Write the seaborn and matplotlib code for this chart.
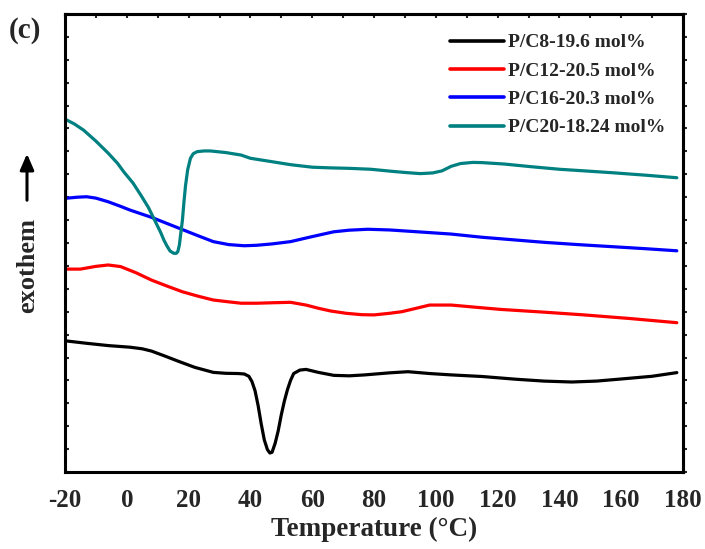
import numpy as np
import pandas as pd
import matplotlib
matplotlib.use("Agg")
import matplotlib.pyplot as plt
import seaborn as sns

# ---- data (y in arbitrary offset units) ----
labels = ["P/C8-19.6 mol%", "P/C12-20.5 mol%", "P/C16-20.3 mol%", "P/C20-18.24 mol%"]
colors = ["#000000", "#ff0000", "#0000ff", "#008080"]

t_c8 = [-20, -13, -6, 1, 5, 8, 12, 17, 22, 28, 32, 36, 38, 39.5, 40.5, 41.5, 42.5, 43.5, 44.5, 45.5, 46.3, 47, 48, 49, 50, 51,
        52, 53, 54, 56, 58, 62, 67, 72, 77, 85, 91, 98, 105, 115, 126, 135, 144, 152, 159, 170, 178]
y_c8 = [5.73, 5.62, 5.52, 5.45, 5.38, 5.28, 5.08, 4.82, 4.57, 4.35, 4.31, 4.30, 4.28, 4.18, 3.95, 3.55, 2.90, 2.10, 1.40, 0.98, 0.83, 0.86, 1.25, 1.80, 2.50, 3.10,
        3.60, 4.00, 4.30, 4.45, 4.48, 4.35, 4.22, 4.20, 4.24, 4.33, 4.38, 4.30, 4.24, 4.17, 4.05, 3.97, 3.93, 3.97, 4.05, 4.18, 4.34]

t_c12 = [-20, -15, -10, -6, -2, 3, 8, 13, 18, 23, 28, 33, 37, 42, 47, 53, 58, 62, 66, 71,
         76, 80, 85, 89, 94, 98, 105, 115, 121, 135, 148, 163, 178]
y_c12 = [8.86, 8.86, 8.98, 9.04, 8.97, 8.70, 8.38, 8.12, 7.87, 7.68, 7.51, 7.43, 7.37, 7.37, 7.39, 7.41, 7.29, 7.15, 7.03, 6.93,
         6.87, 6.86, 6.93, 7.00, 7.16, 7.29, 7.29, 7.17, 7.10, 6.98, 6.86, 6.70, 6.52]

t_c16 = [-20, -16, -13, -10, -6, -2, 1, 8, 17, 23, 28, 33, 38, 42, 47, 53, 60, 67, 72, 78,
         85, 94, 105, 115, 125, 135, 146, 157, 168, 178]
y_c16 = [11.95, 12.00, 12.02, 11.96, 11.80, 11.60, 11.44, 11.12, 10.64, 10.32, 10.06, 9.93, 9.88, 9.90, 9.96, 10.06, 10.28, 10.49, 10.56, 10.60,
         10.57, 10.49, 10.39, 10.25, 10.14, 10.03, 9.93, 9.84, 9.75, 9.66]

t_c20 = [-20, -17, -14, -10, -6, -3, -1, 2, 4.5, 7, 9, 11, 12, 13, 14, 15.2, 16, 16.5, 17, 17.5, 18, 18.5, 19, 19.7, 20.6,
         21.5, 22.8, 25, 27, 32, 37, 40, 47, 53, 60, 66, 72, 79, 85, 90, 95, 99, 102, 105, 108,
         112, 115, 122, 131, 140, 148, 157, 168, 178]
y_c20 = [15.41, 15.20, 14.93, 14.45, 13.92, 13.48, 13.11, 12.62, 12.10, 11.55, 11.00, 10.45, 10.13, 9.87, 9.65, 9.55, 9.55, 9.62, 9.90, 10.45, 11.00, 11.80, 12.50, 13.20, 13.70,
         13.90, 13.99, 14.02, 14.02, 13.95, 13.84, 13.70, 13.55, 13.42, 13.31, 13.28, 13.26, 13.22, 13.14, 13.08, 13.03, 13.06, 13.15, 13.35, 13.47,
         13.52, 13.51, 13.45, 13.33, 13.22, 13.15, 13.07, 12.96, 12.85]

xticks = [-20, 0, 20, 40, 60, 80, 100, 120, 140, 160, 180]
xlabel = "Temperature (\u00b0C)"
ylabel = "exothem"
panel = "(c)"

# ---- long-form table ----
frames = []
for lab, t, y in [(labels[0], t_c8, y_c8), (labels[1], t_c12, y_c12),
                  (labels[2], t_c16, y_c16), (labels[3], t_c20, y_c20)]:
    frames.append(pd.DataFrame({"T": t, "H": y, "sample": lab}))
df = pd.concat(frames, ignore_index=True)

sns.set_style("white")
plt.rcParams["font.family"] = ["Liberation Serif", "DejaVu Serif"]
plt.rcParams["font.weight"] = "bold"
plt.rcParams["axes.unicode_minus"] = False

fig = plt.figure(figsize=(7.05, 5.49), dpi=100)
ax = fig.add_axes([65 / 705, 77 / 549, 618 / 705, 458 / 549])

sns.lineplot(data=df, x="T", y="H", hue="sample", hue_order=labels,
             palette=dict(zip(labels, colors)), sort=False, estimator=None,
             linewidth=2.3, ax=ax, legend=True)

ax.set_xlim(-20, 180)
ax.set_ylim(0, 20)
ax.set_xticks(xticks)
ax.set_xticks(np.arange(-10, 180, 20), minor=True)
ax.set_yticks(np.arange(0, 21, 1))
ax.set_yticklabels([])
for lab in ax.get_xticklabels():
    lab.set_fontweight("bold")
ax.tick_params(axis="x", which="major", direction="out", length=7, width=2,
               labelsize=18, pad=5)
ax.tick_params(axis="x", which="minor", direction="out", length=4, width=2)
ax.tick_params(axis="y", which="major", direction="in", length=3, width=1.5,
               left=True, right=False)

# top and right tick rows
top = ax.secondary_xaxis("top")
top.set_xticks(np.arange(-20, 181, 10))
top.set_xticklabels([])
top.tick_params(direction="in", length=3, width=1.5)
right = ax.secondary_yaxis("right")
right.set_yticks(np.arange(0, 21, 1))
right.set_yticklabels([])
right.tick_params(direction="out", length=3, width=1.5)
for a in (top, right):
    for s in a.spines.values():
        s.set_linewidth(2.2)

for s in ax.spines.values():
    s.set_linewidth(2.2)
    s.set_color("black")

ax.set_xlabel(xlabel, fontsize=19.5, fontweight="bold", labelpad=4)
ax.set_ylabel("")

fig.text(28 / 705, 1 - 266 / 549, ylabel, rotation=90, fontsize=19,
         fontweight="bold", ha="center", va="center")
fig.add_artist(matplotlib.patches.FancyArrowPatch(
    (27 / 705, 1 - 203 / 549), (27 / 705, 1 - 151 / 549),
    transform=fig.transFigure, arrowstyle="-|>,head_length=6,head_width=2.6",
    mutation_scale=1.6, color="black", linewidth=2.2))

fig.text(9 / 705, 1 - 31 / 549, panel, fontsize=21, fontweight="bold",
         ha="left", va="center")

leg = ax.legend(frameon=False, loc="upper right", bbox_to_anchor=(1.0, 0.995),
                prop={"family": ["Liberation Serif"], "weight": "bold", "size": 14},
                handlelength=2.8, handletextpad=0.2, labelspacing=0.55)
for h in leg.get_lines():
    h.set_linewidth(2.6)

fig.savefig("out.png", dpi=100)
